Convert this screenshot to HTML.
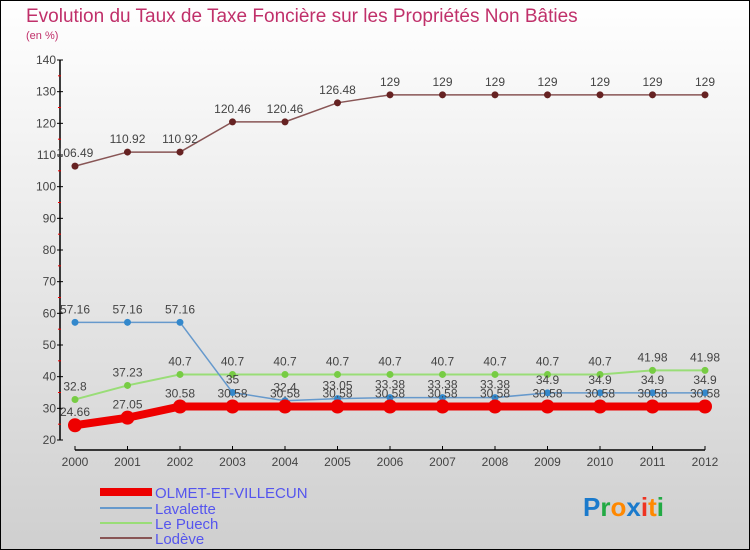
<!DOCTYPE html>
<html><head><meta charset="utf-8">
<style>
html,body{margin:0;padding:0;}
body{width:750px;height:550px;overflow:hidden;}
svg{display:block;font-family:"Liberation Sans",sans-serif;}
</style></head>
<body>
<svg id="chart" width="750" height="550" xmlns="http://www.w3.org/2000/svg">
<defs>
<linearGradient id="bg" x1="0" y1="0" x2="0" y2="1">
<stop offset="0" stop-color="#ffffff"/><stop offset="1" stop-color="#cfcfcf"/>
</linearGradient>
</defs>
<rect x="0" y="0" width="750" height="550" fill="url(#bg)" stroke="#000" stroke-width="2"/>
<text x="26" y="22" font-size="19" fill="#c0306a">Evolution du Taux de Taxe Foncière sur les Propriétés Non Bâties</text>
<text x="26" y="39" font-size="11" fill="#c0306a">(en %)</text>
<g id="axes"></g>
<g id="series"></g>
<g id="legend" font-size="15" fill="#5555ee">
<rect x="100" y="488" width="52" height="8" fill="#ee0000"/>
<text x="155" y="498">OLMET-ET-VILLECUN</text>
<rect x="100" y="507" width="52" height="2" fill="#6699cc"/>
<text x="155" y="514">Lavalette</text>
<rect x="100" y="522" width="52" height="2" fill="#99dd77"/>
<text x="155" y="529">Le Puech</text>
<rect x="100" y="537" width="52" height="2" fill="#885555"/>
<text x="155" y="544">Lodève</text>
</g>
<g font-size="26" font-weight="bold" font-family="'Liberation Sans',sans-serif">
<text x="583" y="516"><tspan fill="#1a7acc">P</tspan><tspan fill="#22aa44">r</tspan><tspan fill="#ff8800">o</tspan><tspan fill="#1a7acc">x</tspan><tspan fill="#ee3322">i</tspan><tspan fill="#ff8800">t</tspan><tspan fill="#22aa44">i</tspan></text>
</g>
</svg>
<script>
const years = ["2000","2001","2002","2003","2004","2005","2006","2007","2008","2009","2010","2011","2012"];
const olmet = [24.66,27.05,30.58,30.58,30.58,30.58,30.58,30.58,30.58,30.58,30.58,30.58,30.58];
const lavalette = [57.16,57.16,57.16,35,32.4,33.05,33.38,33.38,33.38,34.9,34.9,34.9,34.9];
const lePuech = [32.8,37.23,40.7,40.7,40.7,40.7,40.7,40.7,40.7,40.7,40.7,41.98,41.98];
const lodeve = [106.49,110.92,110.92,120.46,120.46,126.48,129,129,129,129,129,129,129];
const yTicks = [20,30,40,50,60,70,80,90,100,110,120,130,140];

const NS="http://www.w3.org/2000/svg";
const xs = i => 75 + i*52.5;
const ys = v => 440 - (v-20)*380/120;
function mk(tag, attrs, parent){const e=document.createElementNS(NS,tag);for(const k in attrs)e.setAttribute(k,attrs[k]);parent.appendChild(e);return e;}
const axes=document.getElementById('axes');
const ser=document.getElementById('series');

let yl=mk('line',{x1:60,y1:60,x2:60,y2:440,stroke:'#000','stroke-width':1.5},axes);


yTicks.forEach((t,i)=>{
  const y=ys(t);
  mk('line',{x1:57,y1:y,x2:63,y2:y,stroke:'#000'},axes);
  const tx=mk('text',{x:56,y:y+4,'text-anchor':'end','font-size':12,fill:'#444'},axes);
  tx.textContent=t;
  
  
  if(i<yTicks.length-1){const m=ys(t+5);mk('line',{x1:58,y1:m,x2:61,y2:m,stroke:'#ee0000'},axes);}
});
let xl=mk('line',{x1:75,y1:450,x2:705,y2:450,stroke:'#000','stroke-width':1.5},axes);


years.forEach((yr,i)=>{
  const x=xs(i);
  mk('line',{x1:x,y1:446,x2:x,y2:450,stroke:'#000'},axes);
  const tx=mk('text',{x:x,y:466,'text-anchor':'middle','font-size':12,fill:'#444'},axes);
  tx.textContent=yr;
  
  
});

function series(vals,color,lw,r,dot,name){
  const g=mk('g',{},ser);
  
  
  const pl=mk('polyline',{points:vals.map((v,i)=>xs(i)+','+ys(v)).join(' '),fill:'none',stroke:color,'stroke-width':lw,'stroke-linejoin':'round'},g);
  
  
  vals.forEach((v,i)=>{
    const c=mk('circle',{cx:xs(i),cy:ys(v),r:r,fill:dot},g);
    
    
  });
  vals.forEach((v,i)=>{
    const t=mk('text',{x:xs(i),y:ys(v)-9,'text-anchor':'middle','font-size':12,fill:'#444'},g);
    t.textContent=String(v);
    
    
  });
}
series(lodeve,'#885555',1.5,3.5,'#662222','lodeve');
series(lePuech,'#99dd77',2,3.5,'#77cc44','le-puech');
series(lavalette,'#6699cc',1.5,3.5,'#3388cc','lavalette');
series(olmet,'#ee0000',8,7,'#ee0000','olmet');
</script>
</body></html>
